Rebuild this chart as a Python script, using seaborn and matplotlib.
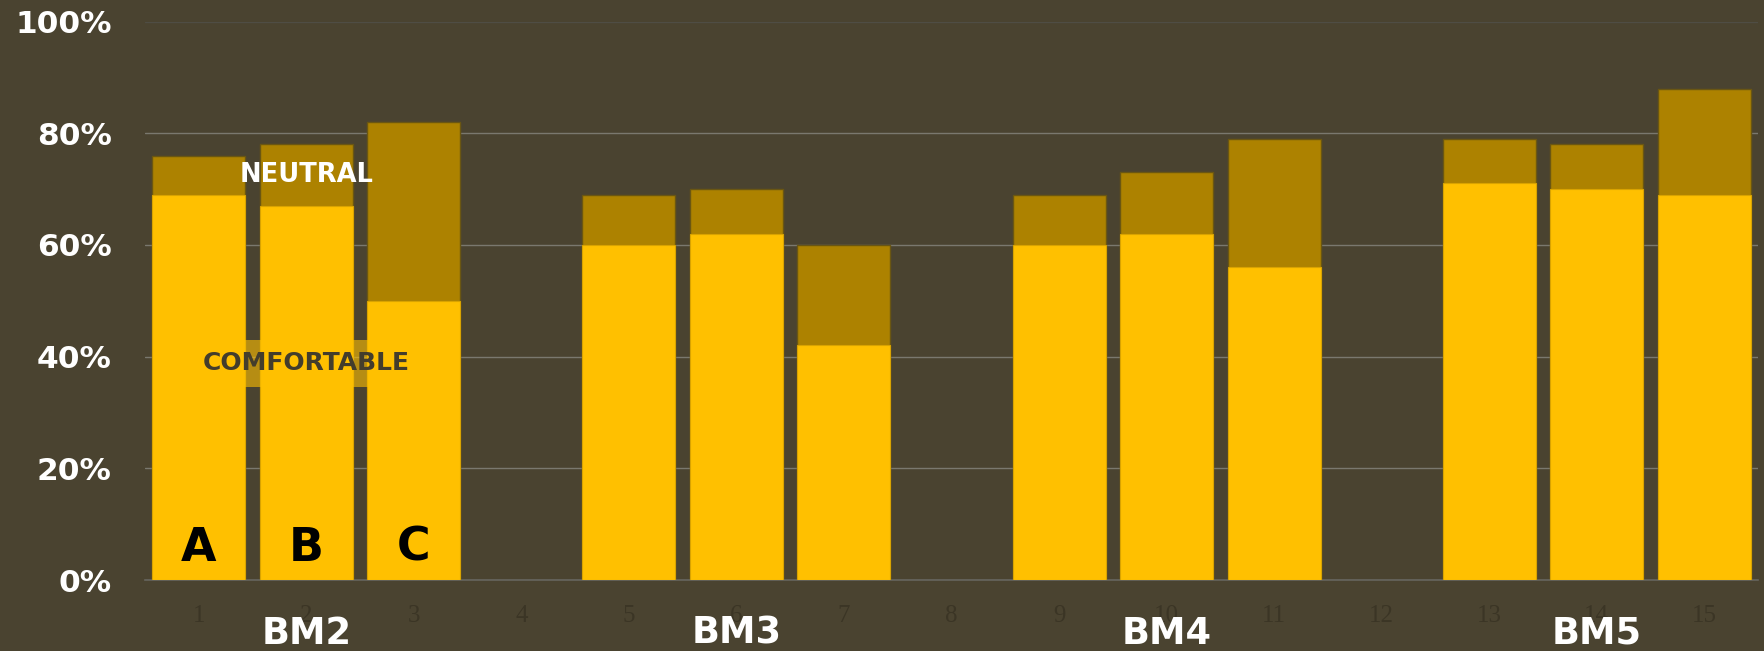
import numpy as np
import pandas as pd
import matplotlib
matplotlib.use("Agg")
import matplotlib.pyplot as plt
import seaborn as sns

# Chart data
categories = [str(i) for i in range(1, 16)]
comfortable = [69, 67, 50, np.nan, 60, 62, 42, np.nan, 60, 62, 56, np.nan, 71, 70, 69]
total = [76, 78, 82, np.nan, 69, 70, 60, np.nan, 69, 73, 79, np.nan, 79, 78, 88]
bar_letters = {"1": "A", "2": "B", "3": "C"}
group_labels = ["BM2", "BM3", "BM4", "BM5"]
group_centers = ["2", "6", "10", "14"]
y_ticks = [0, 20, 40, 60, 80, 100]
y_tick_labels = ["0%", "20%", "40%", "60%", "80%", "100%"]

bg = "#4a4330"
yellow = "#ffc000"
neutral = "#ad8200"

df = pd.DataFrame({"cat": categories, "comfortable": comfortable, "total": total})

sns.set_style("white")
plt.rcParams["font.family"] = ["DejaVu Sans"]

fig = plt.figure(figsize=(17.64, 6.51), dpi=100, facecolor=bg)
ax = fig.add_axes([145 / 1764, 71 / 651, 1613 / 1764, 558.5 / 651])
ax.set_facecolor(bg)

# neutral part = full height, comfortable drawn over it
sns.barplot(data=df, x="cat", y="total", order=categories, color=neutral,
            width=0.865, edgecolor="#6a5612", linewidth=1, saturation=1, ax=ax, zorder=2)
sns.barplot(data=df, x="cat", y="comfortable", order=categories, color=yellow,
            width=0.865, edgecolor="#d9a300", linewidth=0.8, saturation=1, ax=ax, zorder=3)

ax.set_xlim(-0.5, len(categories) - 0.5)
ax.set_ylim(0, 100)
ax.set_yticks(y_ticks)
ax.set_yticklabels(y_tick_labels, color="white", fontsize=22.5, fontweight="bold")
ax.tick_params(axis="y", length=0, pad=24)
ax.tick_params(axis="x", length=0, pad=18)
for lab in ax.get_xticklabels():
    lab.set_family(["Liberation Serif", "DejaVu Serif"])
    lab.set_fontsize(18)
    lab.set_color("#3b3525")
ax.set_xlabel("")
ax.set_ylabel("")

ax.yaxis.grid(True, color="#7a786e", linewidth=1)
ax.yaxis.get_gridlines()[-1].set_color("#4f4d44")
ax.set_axisbelow(True)
for side in ["top", "right", "left"]:
    ax.spines[side].set_visible(False)
ax.spines["bottom"].set_color("#66655e")
ax.spines["bottom"].set_linewidth(1.2)

# letters inside first three bars
for cat, letter in bar_letters.items():
    ax.text(categories.index(cat), 5.7, letter, ha="center", va="center",
            fontsize=33, fontweight="bold", color="black", zorder=5)

# series labels
ax.text(1, 72.5, "NEUTRAL", ha="center", va="center", fontsize=18.5,
        fontweight="bold", color="white", zorder=5)
ax.text(1, 38.8, "COMFORTABLE", ha="center", va="center", fontsize=18,
        fontweight="bold", color="#433d2c", zorder=5,
        bbox=dict(boxstyle="square,pad=0.45", facecolor=yellow, edgecolor="none", alpha=0.6))

# group labels under axis
for name, c in zip(group_labels, group_centers):
    ax.text(categories.index(c), -0.095, name, transform=ax.get_xaxis_transform(),
            ha="center", va="center", fontsize=26.5, fontweight="bold", color="white")

fig.savefig("out.png", dpi=100, facecolor=bg)
